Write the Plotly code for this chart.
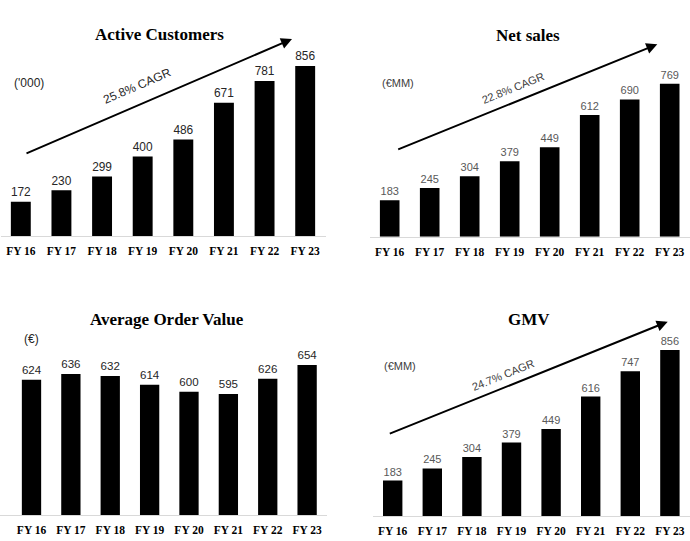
import math
import plotly.graph_objects as go

W, H = 690, 541

years = ["FY 16", "FY 17", "FY 18", "FY 19", "FY 20", "FY 21", "FY 22", "FY 23"]
active_customers = [172, 230, 299, 400, 486, 671, 781, 856]
net_sales = [183, 245, 304, 379, 449, 612, 690, 769]
avg_order_value = [624, 636, 632, 614, 600, 595, 626, 654]
gmv = [183, 245, 304, 379, 449, 616, 747, 856]

titles = ["Active Customers", "Net sales", "Average Order Value", "GMV"]
units = ["('000)", "(€MM)", "(€)", "(€MM)"]
cagr = ["25.8% CAGR", "22.8% CAGR", None, "24.7% CAGR"]


def px(x):
    return x / W


def py(y):
    return 1 - y / H


# panel geometry (pixels): x domain, baseline y, top y, y-range
panels = [
    dict(vals=active_customers, xd=(0.5, 325.5), xr=(-0.5, 7.5), base=236, top=20, yr=(0, 216 / 0.1986),
         tcol="#262626", tsize=13),
    dict(vals=net_sales, xd=(369.7, 689.7), xr=(-0.5, 7.5), base=236.7, top=20, yr=(0, 216.7 / 0.199),
         tcol="#595959", tsize=11),
    dict(vals=avg_order_value, xd=(0, 327.2), xr=(-0.80, 7.51), base=515, top=300, yr=(349, 349 + 215 / 0.4915),
         tcol="#262626", tsize=13),
    dict(vals=gmv, xd=(372.9, 689.7), xr=(-0.5, 7.5), base=516, top=300, yr=(0, 216 / 0.1939),
         tcol="#595959", tsize=11),
]

fig = go.Figure()
layout = dict(
    width=W, height=H, margin=dict(l=0, r=0, t=0, b=0),
    paper_bgcolor="white", plot_bgcolor="white", showlegend=False,
    bargap=0.51,
)

for i, p in enumerate(panels):
    n = "" if i == 0 else str(i + 1)
    fig.add_trace(go.Bar(
        x=years, y=p["vals"], xaxis="x" + n, yaxis="y" + n,
        marker=dict(color="black", line=dict(width=0)),
        text=[str(v) for v in p["vals"]], textposition="outside",
        textfont=dict(family="Liberation Sans, Arial", size=p["tsize"], color=p["tcol"]),
        cliponaxis=False, hoverinfo="skip",
    ))
    layout["xaxis" + n] = dict(
        domain=[px(p["xd"][0]), px(p["xd"][1])], range=list(p["xr"]), anchor="y" + n,
        type="category", showgrid=False, zeroline=False,
        showline=True, linecolor="#d9d9d9", linewidth=1,
        ticks="", ticklabelstandoff=4,
        tickfont=dict(family="Liberation Serif, Times New Roman", size=11.5, color="black", weight="bold"),
    )
    layout["yaxis" + n] = dict(
        domain=[py(p["base"]), py(p["top"])], range=list(p["yr"]), anchor="x" + n,
        showgrid=False, zeroline=False, showticklabels=False, showline=False,
    )

fig.update_layout(**layout)

title_pos = [(159, 34), (528, 35), (167, 319), (529, 319)]
unit_pos = [(12, 83), (380, 83), (22, 339), (382, 366)]
unit_cols = ["#262626", "#404040", "#262626", "#404040"]
for i in range(4):
    fig.add_annotation(
        x=px(title_pos[i][0]), y=py(title_pos[i][1]), xref="paper", yref="paper",
        text="<b>" + titles[i] + "</b>", showarrow=False, xanchor="center", yanchor="middle",
        font=dict(family="Liberation Serif, Times New Roman", size=17, color="black"),
    )
    fig.add_annotation(
        x=px(unit_pos[i][0]), y=py(unit_pos[i][1]), xref="paper", yref="paper",
        text=units[i], showarrow=False, xanchor="left", yanchor="middle",
        font=dict(family="Liberation Sans, Arial", size=12 if i in (0, 2) else 11, color=unit_cols[i]),
    )

# CAGR arrows: (tail, tip) in pixels, text centre
arrows = {
    0: ((25, 154), (292, 39), (137, 86)),
    1: ((396.7, 150), (657.3, 44.3), (513, 88)),
    3: ((388.3, 434.3), (667.7, 321.7), (503, 375)),
}
for i, (tail, tip, tc) in arrows.items():
    fig.add_annotation(
        x=px(tip[0]), y=py(tip[1]), xref="paper", yref="paper",
        ax=tail[0] - tip[0], ay=tail[1] - tip[1], axref="pixel", ayref="pixel",
        showarrow=True, arrowhead=2, arrowsize=1.1, arrowwidth=2, arrowcolor="black", text="",
    )
    ang = math.degrees(math.atan2(tail[1] - tip[1], tip[0] - tail[0]))
    fig.add_annotation(
        x=px(tc[0]), y=py(tc[1]), xref="paper", yref="paper",
        text=cagr[i], showarrow=False, textangle=-ang, xanchor="center", yanchor="middle",
        font=dict(family="Liberation Sans, Arial", size=12 if i == 0 else 11,
                  color="#262626" if i == 0 else "#404040"),
    )

fig.write_html("out.html", config={"displayModeBar": False},
               post_script="document.body.style.margin='0';document.body.style.overflow='hidden';")
